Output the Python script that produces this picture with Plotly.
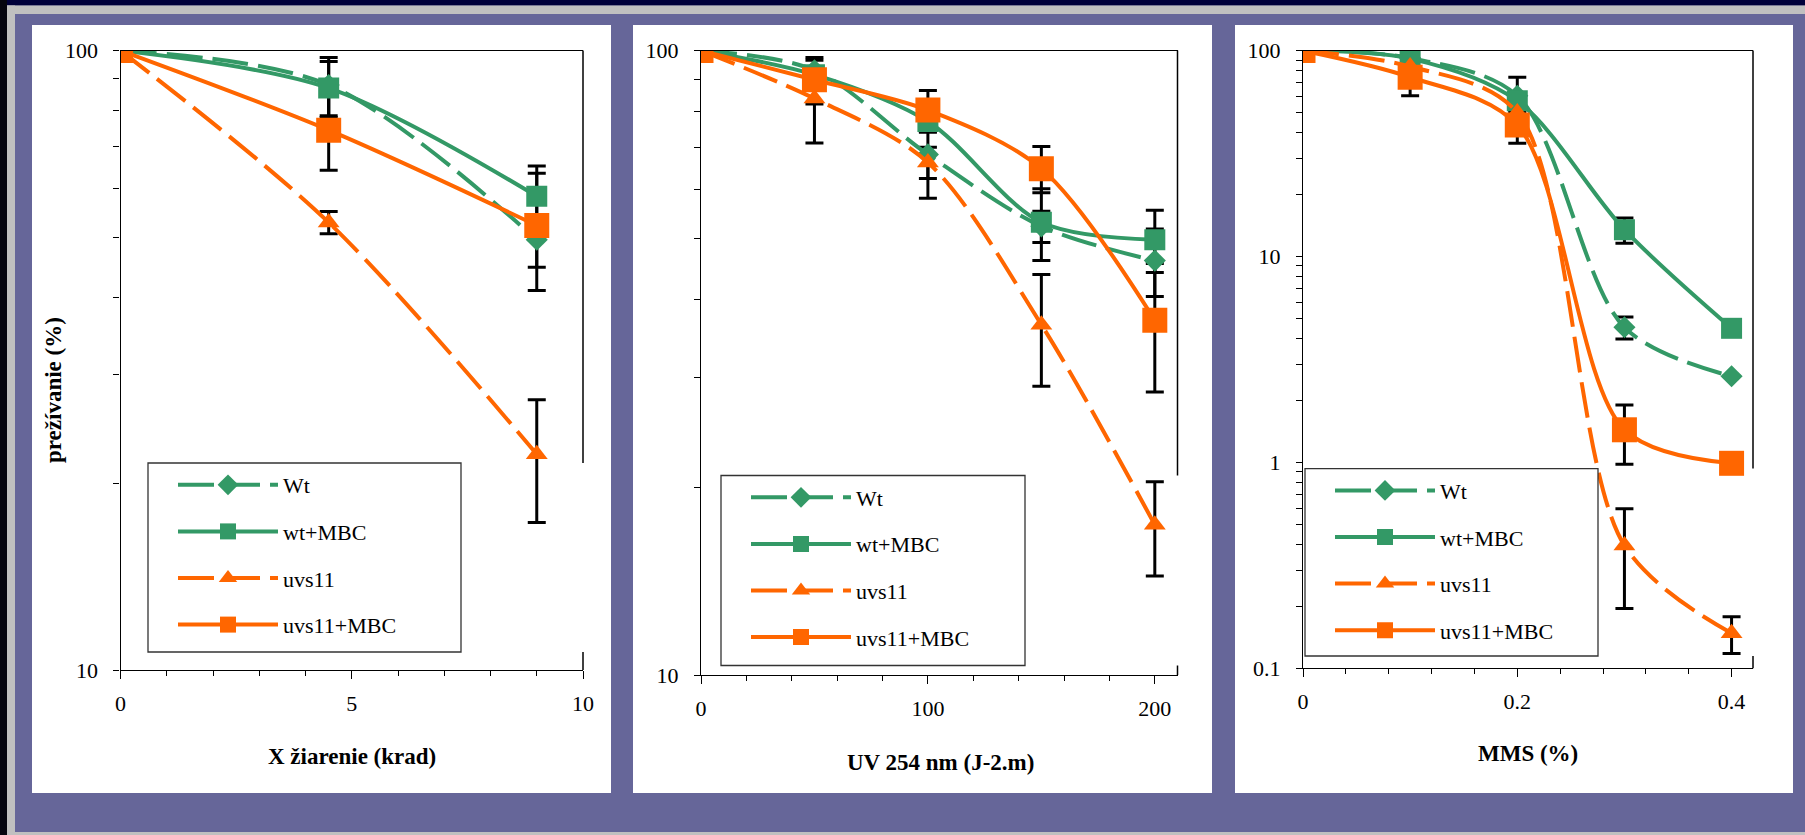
import plotly.graph_objects as go

GREEN = "#339966"
ORANGE = "#FF6600"
PURPLE = "#666699"
W, H = 1805, 835

series_names = ["Wt", "wt+MBC", "uvs11", "uvs11+MBC"]

# Panel 1: X-ray (krad)
xray_dose = [0, 4.5, 9]
xray_wt = [100, 88, 49.5]
xray_wt_err = [None, 9.5, 4.8]
xray_wtmbc = [100, 87, 58.2]
xray_wtmbc_err = [None, 9, 6.9]
xray_uvs = [100, 52.8, 22.3]
xray_uvs_err = [None, 2.2, 5.0]
xray_uvsmbc = [100, 74.4, 52.2]
xray_uvsmbc_err = [None, 10.3, 11.2]

# Panel 2: UV 254 nm
uv_dose = [0, 50, 100, 150, 200]
uv_wt = [100, 93, 68.2, 52.3, 46.1]
uv_wt_err = [None, None, 10.2, 3, 5.7]
uv_wtmbc = [100, 91.5, 77, 53.1, 49.8]
uv_wtmbc_err = [None, None, 3, 7, 5.7]
uv_uvs = [100, 83.8, 66.2, 36.4, 17.4]
uv_uvs_err = [None, 12.7, 3.8, 7.4, 3]
uv_uvsmbc = [100, 89.8, 80.3, 64.7, 37]
uv_uvsmbc_err = [None, 7.7, 6, 5.5, 8.6]

# Panel 3: MMS (%)
mms_dose = [0, 0.1, 0.2, 0.3, 0.4]
mms_wt = [100, 92, 60.3, 4.53, 2.62]
mms_wt_err = [None, None, 14, 0.55, None]
mms_wtmbc = [100, 91.4, 57, 13.5, 4.48]
mms_wtmbc_err = [None, None, None, 1.9, None]
mms_uvs = [100, 83.7, 50, 0.395, 0.148]
mms_uvs_err = [None, None, None, 0.2, 0.03]
mms_uvsmbc = [100, 74.3, 43.5, 1.44, 0.99]
mms_uvsmbc_err = [None, 14, 8, 0.46, None]

x_titles = ["X žiarenie (krad)", "UV 254 nm (J-2.m)", "MMS (%)"]
y_title = "prežívanie (%)"

panels = [
    (xray_dose, [xray_wt, xray_wtmbc, xray_uvs, xray_uvsmbc],
     [xray_wt_err, xray_wtmbc_err, xray_uvs_err, xray_uvsmbc_err]),
    (uv_dose, [uv_wt, uv_wtmbc, uv_uvs, uv_uvsmbc],
     [uv_wt_err, uv_wtmbc_err, uv_uvs_err, uv_uvsmbc_err]),
    (mms_dose, [mms_wt, mms_wtmbc, mms_uvs, mms_uvsmbc],
     [mms_wt_err, mms_wtmbc_err, mms_uvs_err, mms_uvsmbc_err]),
]

styles = [
    dict(color=GREEN, dash="36px,10px", symbol="diamond", size=17),
    dict(color=GREEN, dash="solid", symbol="square", size=21),
    dict(color=ORANGE, dash="36px,10px", symbol="triangle-up", size=19),
    dict(color=ORANGE, dash="solid", symbol="square", size=25),
]

def px(x):
    return x / W

def py(y):
    return 1 - y / H

# plot-area pixel boxes (left, right, top, bottom)
areas = [(120.6, 583, 50.6, 670), (701, 1177.5, 50.6, 675), (1303, 1753, 50.6, 668.3)]
legend_boxes = [(148, 461, 463, 652), (721, 1025, 475.5, 665.5), (1305, 1598, 468.6, 656)]
white_panels = [(32, 611), (633, 1212), (1235, 1793)]

fig = go.Figure()

for p, (xs, ys_list, errs_list) in enumerate(panels):
    sfx = "" if p == 0 else str(p + 1)
    # error bars first (beneath lines and markers)
    for s in range(4):
        fig.add_trace(go.Scatter(
            x=xs, y=ys_list[s], mode="markers",
            marker=dict(size=1, opacity=0),
            error_y=dict(type="data", array=errs_list[s], visible=True,
                         color="black", thickness=3, width=9),
            xaxis="x" + sfx, yaxis="y" + sfx, showlegend=False, hoverinfo="skip"))
    for s in range(4):
        st = styles[s]
        fig.add_trace(go.Scatter(
            x=xs, y=ys_list[s], mode="lines+markers", name=series_names[s],
            line=dict(color=st["color"], width=4, dash=st["dash"], shape="spline", smoothing=0.9),
            marker=dict(symbol=st["symbol"], size=st["size"], color=st["color"], line=dict(width=0)),
            xaxis="x" + sfx, yaxis="y" + sfx,
            legend="legend" + sfx, legendgroup="g%d_%d" % (p, s)))

serif = "Liberation Serif, 'Times New Roman', Times, serif"
tickfont = dict(family=serif, size=22, color="black")

x_cfg = [
    dict(range=[0, 10], tickvals=[0, 5, 10], minor=dict(dtick=1)),
    dict(range=[0, 210], tickvals=[0, 100, 200], minor=dict(dtick=20)),
    dict(range=[0, 0.42], tickvals=[0, 0.2, 0.4], ticktext=["0", "0.2", "0.4"], minor=dict(dtick=0.04)),
]
y_cfg = [
    dict(range=[1, 2], tickvals=[10, 100], minor_vals=[20, 30, 40, 50, 60, 70, 80, 90]),
    dict(range=[1, 2], tickvals=[10, 100], minor_vals=[20, 30, 40, 50, 60, 70, 80, 90]),
    dict(range=[-1, 2], tickvals=[0.1, 1, 10, 100], ticktext=["0.1", "1", "10", "100"],
         minor_vals=[0.2, 0.3, 0.4, 0.5, 0.6, 0.7, 0.8, 0.9, 2, 3, 4, 5, 6, 7, 8, 9,
                     20, 30, 40, 50, 60, 70, 80, 90]),
]

layout = dict(
    width=W, height=H, autosize=False,
    margin=dict(l=0, r=0, t=0, b=0, pad=0, autoexpand=False),
    paper_bgcolor=PURPLE, plot_bgcolor="rgba(0,0,0,0)",
    showlegend=True, shapes=[], annotations=[],
)

shapes = layout["shapes"]
def rect(x0, y0, x1, y1, color, layer="below"):
    shapes.append(dict(type="rect", xref="paper", yref="paper",
                       x0=px(x0), x1=px(x1), y0=py(y1), y1=py(y0),
                       fillcolor=color, line=dict(width=0), layer=layer))

def seg(x0, y0, x1, y1, color="black", width=1.5):
    shapes.append(dict(type="line", xref="paper", yref="paper",
                       x0=px(x0), x1=px(x1), y0=py(y0), y1=py(y1),
                       line=dict(color=color, width=width), layer="above"))

# frame
rect(0, 0, W, 5.5, "#00003a")
rect(7, 5.5, W, 14, "#c0c0c0")
rect(0, 0, 7, H, "#05050f")
rect(7, 5.5, 15, H, "#c0c0c0")
rect(7, 832, W, H, "#c0c0c0")
for (a, b) in white_panels:
    rect(a, 25, b, 793, "white")

for p in range(3):
    sfx = "" if p == 0 else str(p + 1)
    l, r, t, b = areas[p]
    xc = x_cfg[p]
    yc = y_cfg[p]
    xa = dict(domain=[px(l), px(r)], anchor="y" + sfx, range=xc["range"],
              tickvals=xc["tickvals"], ticks="outside", ticklen=8, tickwidth=1.3,
              tickcolor="black", showline=True, linecolor="black", linewidth=1.3,
              mirror=True, showgrid=False, zeroline=False, tickfont=tickfont,
              ticklabelstandoff=5, automargin=False,
              minor=dict(dtick=xc["minor"]["dtick"], ticks="outside", ticklen=5,
                         tickcolor="black", tickwidth=1.3, showgrid=False))
    if "ticktext" in xc:
        xa["ticktext"] = xc["ticktext"]
    ya = dict(domain=[py(b), py(t)], anchor="x" + sfx, type="log", range=yc["range"],
              tickvals=yc["tickvals"], ticks="outside", ticklen=6, tickwidth=1.3,
              tickcolor="black", showline=True, linecolor="black", linewidth=1.3,
              showgrid=False, zeroline=False, tickfont=tickfont, ticklabelstandoff=11,
              automargin=False,
              minor=dict(tickvals=yc["minor_vals"], ticks="outside", ticklen=6,
                         tickcolor="black", tickwidth=1.3, showgrid=False))
    if "ticktext" in yc:
        ya["ticktext"] = yc["ticktext"]
    layout["xaxis" + sfx] = xa
    layout["yaxis" + sfx] = ya

    # right border with gap at legend height
    lb = legend_boxes[p]
    seg(r, t, r, lb[2])
    seg(r, lb[3], r, b)
    # legend box
    shapes.append(dict(type="rect", xref="paper", yref="paper",
                       x0=px(lb[0]), x1=px(lb[1]), y0=py(lb[3]), y1=py(lb[2]),
                       fillcolor="white", line=dict(color="#333333", width=1.3), layer="above"))

    layout["legend" + sfx] = dict(
        x=px(lb[0] + 25), y=py(lb[2] + 1), xanchor="left", yanchor="top",
        bgcolor="rgba(0,0,0,0)", borderwidth=0, itemwidth=100,
        font=dict(family=serif, size=22, color="black"),
        tracegroupgap=15, itemsizing="trace")

# axis titles
title_pos = [(352, 756), (940, 762), (1528, 753)]
for p in range(3):
    layout["annotations"].append(dict(
        text="<b>%s</b>" % x_titles[p], xref="paper", yref="paper",
        x=px(title_pos[p][0]), y=py(title_pos[p][1]), showarrow=False,
        xanchor="center", yanchor="middle",
        font=dict(family=serif, size=23, color="black")))
layout["annotations"].append(dict(
    text="<b>%s</b>" % y_title, xref="paper", yref="paper",
    x=px(53), y=py(390), showarrow=False, textangle=-90,
    xanchor="center", yanchor="middle",
    font=dict(family=serif, size=23, color="black")))

fig.update_layout(**layout)
fig.write_html("out.html", config={"displayModeBar": False},
               post_script="document.body.style.margin='0px';document.body.style.padding='0px';")
